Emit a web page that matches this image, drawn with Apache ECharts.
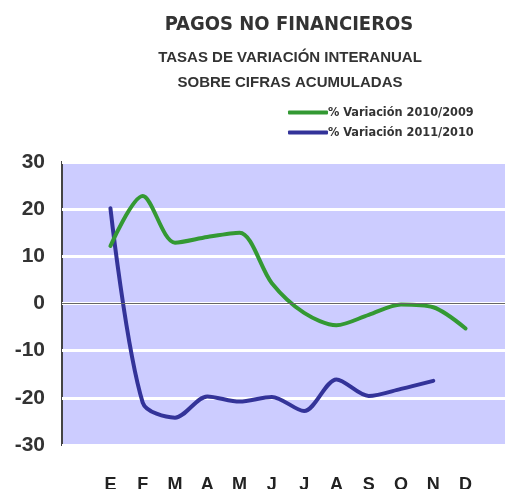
<!DOCTYPE html>
<html>
<head>
<meta charset="utf-8">
<script src="https://cdn.jsdelivr.net/npm/echarts@6/dist/echarts.min.js"></script>
<style>
  html, body { margin: 0; padding: 0; background: #fff; }
  #chart { width: 505px; height: 489px; }
</style>
</head>
<body>
<div id="chart"></div>
<script>
// meses (con una categoria vacia a cada lado, como en el original)
var months = ['E', 'F', 'M', 'A', 'M', 'J', 'J', 'A', 'S', 'O', 'N', 'D'];
var var2010 = [12.2, 22.8, 12.9, 14.1, 15.0, 4.3, -2.0, -4.6, -2.4, -0.2, -0.8, -5.3];
var var2011 = [20.2, -21.0, -24.2, -19.7, -20.8, -19.8, -22.8, -16.1, -19.6, -18.1, -16.4, null];
var yTicks = [-30, -20, -10, 0, 10, 20, 30];

var categories = [''].concat(months, ['']);
function pad(arr) { return [null].concat(arr, [null]); }

var condensed = '"DejaVu Sans Condensed", "Liberation Sans", sans-serif';

var chart = echarts.init(document.getElementById('chart'));
var lineStyleBase = { width: 4, cap: 'round' };

var option = {
  animation: false,
  title: [
    {
      text: 'PAGOS NO FINANCIEROS',
      left: 284, top: 10, textAlign: 'center',
      textStyle: { fontFamily: condensed, fontWeight: 'bold', fontSize: 20, color: '#333' }
    },
    {
      text: 'TASAS DE VARIACIÓN INTERANUAL\nSOBRE CIFRAS ACUMULADAS',
      left: 285, top: 40, textAlign: 'center',
      textStyle: { fontFamily: 'Liberation Sans', fontWeight: 'bold', fontSize: 15, lineHeight: 25, color: '#333' }
    }
  ],
  legend: {
    orient: 'vertical',
    left: 283, top: 101,
    itemWidth: 40, itemHeight: 4, itemGap: 7,
    icon: 'roundRect',
    textStyle: { fontFamily: condensed, fontWeight: 'bold', fontSize: 12.6, color: '#333', padding: [0, 0, 0, -5] },
    data: ['% Variación 2010/2009', '% Variación 2011/2010']
  },
  grid: {
    left: 62, top: 162, width: 452, height: 283,
    outerBoundsMode: 'none',
    containLabel: false,
    show: true, backgroundColor: '#ccccff', borderColor: '#444', borderWidth: 2
  },
  xAxis: {
    type: 'category',
    data: categories,
    boundaryGap: true,
    axisLine: { show: false },
    axisTick: { show: false },
    axisLabel: {
      interval: 0, margin: 31,
      fontFamily: 'Liberation Sans', fontWeight: 'bold', fontSize: 18, color: '#222'
    }
  },
  yAxis: {
    type: 'value',
    min: -30, max: 30, interval: 10,
    axisLine: { show: false },
    axisTick: { show: false },
    axisLabel: {
      margin: 17,
      fontFamily: 'Liberation Sans', fontWeight: 'bold', fontSize: 21, color: '#333',
      formatter: function (v) { return yTicks.indexOf(v) >= 0 ? String(v) : ''; }
    },
    splitLine: { lineStyle: { color: '#ffffff', width: 3 } }
  },
  series: [
    {
      name: '% Variación 2010/2009',
      type: 'line',
      data: pad(var2010),
      smooth: 0.3,
      symbol: 'none',
      color: '#339933',
      lineStyle: Object.assign({ color: '#339933' }, lineStyleBase),
      markLine: {
        silent: true, symbol: 'none', label: { show: false },
        lineStyle: { color: '#666', width: 1, type: 'solid' },
        data: [{ yAxis: 0 }]
      },
      z: 3
    },
    {
      name: '% Variación 2011/2010',
      type: 'line',
      data: pad(var2011),
      smooth: 0.3,
      symbol: 'none',
      color: '#333399',
      lineStyle: Object.assign({ color: '#333399' }, lineStyleBase),
      z: 2
    }
  ]
};
chart.setOption(option);
</script>
</body>
</html>
